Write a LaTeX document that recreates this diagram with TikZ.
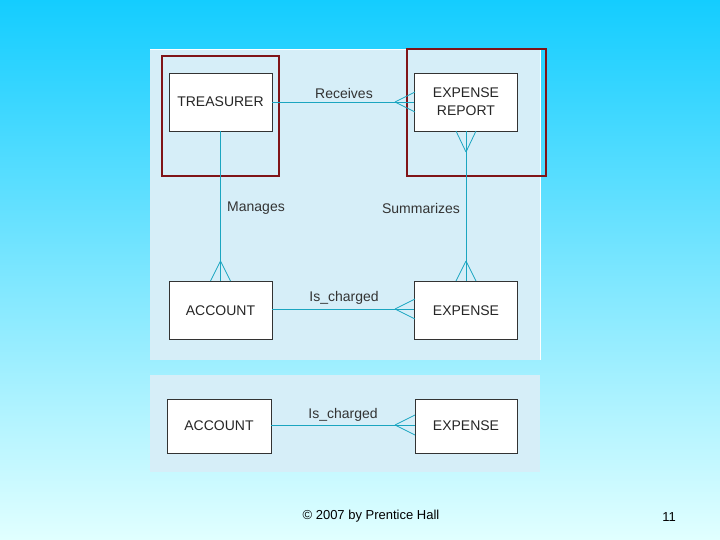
\documentclass[tikz,border=0pt]{standalone}
\usepackage{fontspec}
\setmainfont{Liberation Sans}
\definecolor{ln}{RGB}{27,165,192}
\definecolor{pnl}{RGB}{214,238,248}
\definecolor{rd}{RGB}{128,20,24}
\tikzset{ent/.style={draw=black!80,fill=white,minimum width=103pt,minimum height=58pt,inner sep=0pt,font=\fontsize{14}{18}\selectfont,align=center,text=black!85},
lbl/.style={font=\fontsize{14}{17}\selectfont,text=black!80},
rel/.style={draw=ln,line width=0.8pt},
hl/.style={draw=rd,line width=1.6pt}}
\begin{document}
\begin{tikzpicture}[x=1pt,y=-1pt]
\useasboundingbox (0,0) rectangle (720,540);
\shade[top color={rgb,255:red,20;green,205;blue,255},bottom color={rgb,255:red,225;green,255;blue,255}] (0,0) rectangle (720,540);
\fill[pnl] (150,50) rectangle (540,360);
\fill[pnl] (150,375) rectangle (540,472);
\draw[white,line width=1pt] (150,50) -- (540,50) (540,50) -- (540,360);
\node[ent] (tr) at (220.5,102) {TREASURER};
\node[ent] (er) at (466,102) {EXPENSE\\REPORT};
\node[ent] (ac) at (220.5,310.5) {ACCOUNT};
\node[ent] (ex) at (466,310.5) {EXPENSE};
\node[ent,minimum width=104pt,minimum height=54pt] (ac2) at (219,426) {ACCOUNT};
\node[ent,minimum width=102pt,minimum height=54pt] (ex2) at (466,426) {EXPENSE};
\draw[hl] (162,56) rectangle (279,176);
\draw[hl] (407,49) rectangle (546,176);
\coordinate (a1) at (395,102);
\draw[rel] (tr.east) -- (er.west);
\draw[rel] (a1) -- (415,92) (a1) -- (415,112);
\coordinate (a2) at (466,152);
\draw[rel] (er.south) -- (ex.north);
\draw[rel] (a2) -- (456,131) (a2) -- (476,131);
\coordinate (a3) at (466,261);
\draw[rel] (a3) -- (456,281) (a3) -- (476,281);
\coordinate (a4) at (220.5,261);
\draw[rel] (tr.south) -- (ac.north);
\draw[rel] (a4) -- (210.5,281) (a4) -- (230.5,281);
\coordinate (a5) at (395,309);
\draw[rel] (ac.east |- a5) -- (ex.west |- a5);
\draw[rel] (a5) -- (415,299) (a5) -- (415,319);
\coordinate (a6) at (395,425);
\draw[rel] (ac2.east |- a6) -- (ex2.west |- a6);
\draw[rel] (a6) -- (415,415) (a6) -- (415,435);
\node[lbl] (l1) at (344,93) {Receives};
\node[lbl] (l2) at (256,208) {Manages};
\node[lbl] (l3) at (421,208) {Summarizes};
\node[lbl] (l4) at (344,298) {Is\_charged};
\node[lbl] (l5) at (343,415) {Is\_charged};
\node[font=\fontsize{13}{15}\selectfont] (ft) at (371,516) {© 2007 by Prentice Hall};
\node[font=\fontsize{13}{15}\selectfont] (pg) at (669,517) {11};
\end{tikzpicture}
\end{document}
